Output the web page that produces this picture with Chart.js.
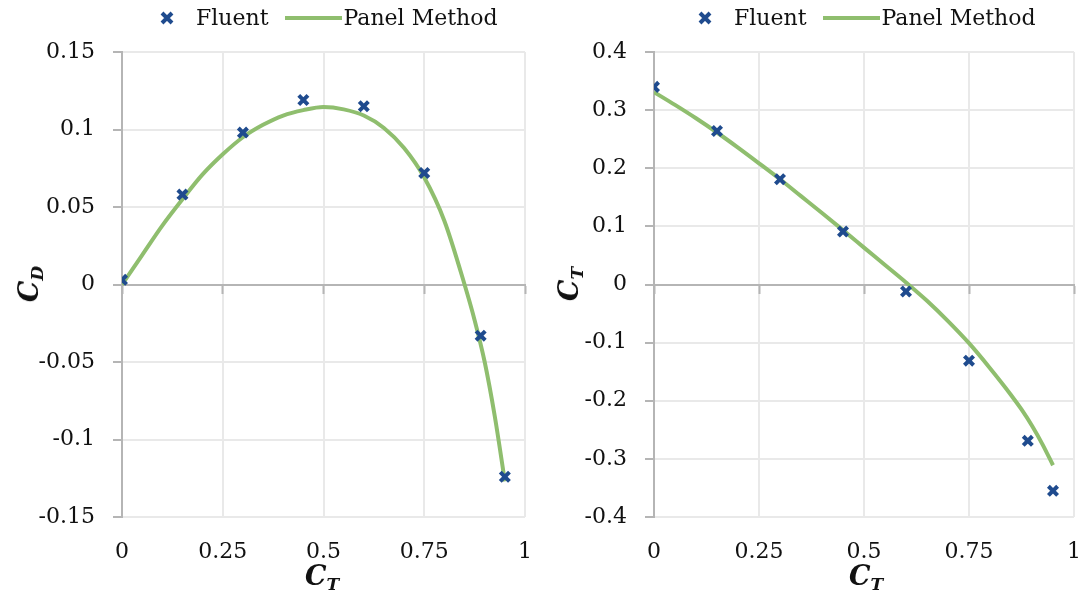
<!DOCTYPE html>
<html>
<head>
<meta charset="utf-8">
<script src="https://cdn.jsdelivr.net/npm/chart.js@4.4.1/dist/chart.umd.min.js"></script>
<style>
  body { margin: 0; background: #fff; }
  #wrap { position: relative; width: 1089px; height: 597px; font-family: "DejaVu Serif", serif; color: #111; }
  .panel { position: absolute; top: 0; height: 597px; }
  .legend { position: absolute; top: 5px; display: flex; align-items: center; font-size: 22px; white-space: nowrap; }
  .legend svg { margin-right: 22px; }
  .legend .line { display: inline-block; width: 57px; height: 4px; background: #8fbe6e; margin: 0 2px 0 16px; }
  .ytitle, .xtitle { position: absolute; font-weight: bold; font-style: italic; font-size: 27px; white-space: nowrap; }
  .ytitle { transform: translate(-50%, -50%) rotate(-90deg); }
  .xtitle { transform: translateX(-50%); }
  sub { font-size: 17px; vertical-align: -5px; }
</style>
</head>
<body>
<div id="wrap">
  <div class="panel" style="left:0;width:545px">
    <canvas id="left" width="545" height="597"></canvas>
    <div class="legend" style="left:160px">
      <svg width="14" height="14"><path d="M2 2 L12 12 M12 2 L2 12" stroke="#1f4b8e" stroke-width="4"/></svg>Fluent<span class="line"></span>Panel Method
    </div>
    <div class="ytitle" style="left:30px;top:284px">C<sub>D</sub></div>
    <div class="xtitle" style="left:322px;top:560px">C<sub>T</sub></div>
  </div>
  <div class="panel" style="left:545px;width:544px">
    <canvas id="right" width="544" height="597"></canvas>
    <div class="legend" style="left:153px">
      <svg width="14" height="14"><path d="M2 2 L12 12 M12 2 L2 12" stroke="#1f4b8e" stroke-width="4"/></svg>Fluent<span class="line"></span>Panel Method
    </div>
    <div class="ytitle" style="left:25px;top:284px">C<sub>T</sub></div>
    <div class="xtitle" style="left:321px;top:560px">C<sub>T</sub></div>
  </div>
</div>
<script>
// Fluent results
const fluentX = [0, 0.15, 0.3, 0.45, 0.6, 0.75, 0.89, 0.95];
const fluentCD = [0.003, 0.058, 0.098, 0.119, 0.115, 0.072, -0.033, -0.124];
const fluentCT = [0.340, 0.264, 0.181, 0.091, -0.012, -0.131, -0.269, -0.355];

// panel method curve
const panelX = [0, 0.05, 0.1, 0.15, 0.2, 0.25, 0.3, 0.35, 0.4, 0.45, 0.5, 0.55, 0.6, 0.65, 0.7, 0.75, 0.8, 0.85, 0.875, 0.9, 0.925, 0.95];
const panelCD = [0, 0.019, 0.038, 0.055, 0.071, 0.084, 0.095, 0.103, 0.109, 0.1125, 0.1145, 0.113, 0.109, 0.101, 0.088, 0.069, 0.041, 0.000, -0.023, -0.050, -0.085, -0.127];
const panelCT = [0.331, 0.309, 0.286, 0.2615, 0.2355, 0.2085, 0.181, 0.152, 0.123, 0.0935, 0.0635, 0.0335, 0.0035, -0.028, -0.063, -0.101, -0.144, -0.190, -0.215, -0.243, -0.275, -0.311];

// tick labels
const xTicks = [0, 0.25, 0.5, 0.75, 1];
const cdTicks = [-0.15, -0.1, -0.05, 0, 0.05, 0.1, 0.15];
const ctTicks = [-0.4, -0.3, -0.2, -0.1, 0, 0.1, 0.2, 0.3, 0.4];

const BLUE = "#1f4b8e";
const GREEN = "#8fbe6e";
const AXIS = "#b5b5b5";
const GRID = "#e9e9e9";
const tickFont = { family: "DejaVu Serif", size: 22 };

function pts(xs, ys) {
  return xs.map((x, i) => ({ x: x, y: ys[i] }));
}

function setTicks(list) {
  return scale => { scale.ticks = list.map(v => ({ value: v })); };
}

function noSidePad(s) {
  s.paddingLeft = 0;
  s.paddingRight = 0;
}

function makeChart(id, fy, py, yTicks, yWidth, rightPad) {
  new Chart(document.getElementById(id), {
    type: "scatter",
    data: {
      datasets: [
        {
          label: "Fluent",
          data: pts(fluentX, fy),
          pointStyle: "crossRot",
          pointRadius: 6.5,
          pointBorderWidth: 4,
          borderColor: BLUE,
          backgroundColor: BLUE,
          showLine: false
        },
        {
          label: "Panel Method",
          data: pts(panelX, py),
          showLine: true,
          pointRadius: 0,
          borderColor: GREEN,
          borderWidth: 4,
          cubicInterpolationMode: "monotone"
        }
      ]
    },
    options: {
      responsive: false,
      animation: false,
      layout: { padding: { top: 52, right: rightPad, left: 0, bottom: 0 } },
      plugins: { legend: { display: false }, tooltip: { enabled: false } },
      scales: {
        x: {
          type: "linear",
          min: 0,
          max: 1,
          afterBuildTicks: setTicks(xTicks),
          afterFit: s => { s.height = 80; noSidePad(s); },
          grid: { color: GRID, lineWidth: 2, drawTicks: false },
          border: { display: false },
          ticks: { font: tickFont, color: "#111", padding: 22, callback: v => String(v) }
        },
        y: {
          type: "linear",
          min: yTicks[0],
          max: yTicks[yTicks.length - 1],
          afterBuildTicks: setTicks(yTicks),
          afterFit: s => { s.width = yWidth; },
          grid: { color: GRID, lineWidth: 2, drawTicks: true, tickLength: 9, tickColor: AXIS, tickWidth: 2 },
          border: { display: true, color: AXIS, width: 2 },
          ticks: { font: tickFont, color: "#111", padding: 18, callback: v => String(v) }
        },
        x2: {
          axis: "x",
          type: "linear",
          position: { y: 0 },
          min: 0,
          max: 1,
          afterBuildTicks: setTicks(xTicks),
          afterFit: noSidePad,
          grid: { drawOnChartArea: false, drawTicks: true, tickLength: 8, tickColor: AXIS, tickWidth: 2 },
          border: { display: true, color: AXIS, width: 2 },
          ticks: { display: false }
        }
      }
    }
  });
}

makeChart("left", fluentCD, panelCD, cdTicks, 122, 20);
makeChart("right", fluentCT, panelCT, ctTicks, 109, 15);
</script>
</body>
</html>
